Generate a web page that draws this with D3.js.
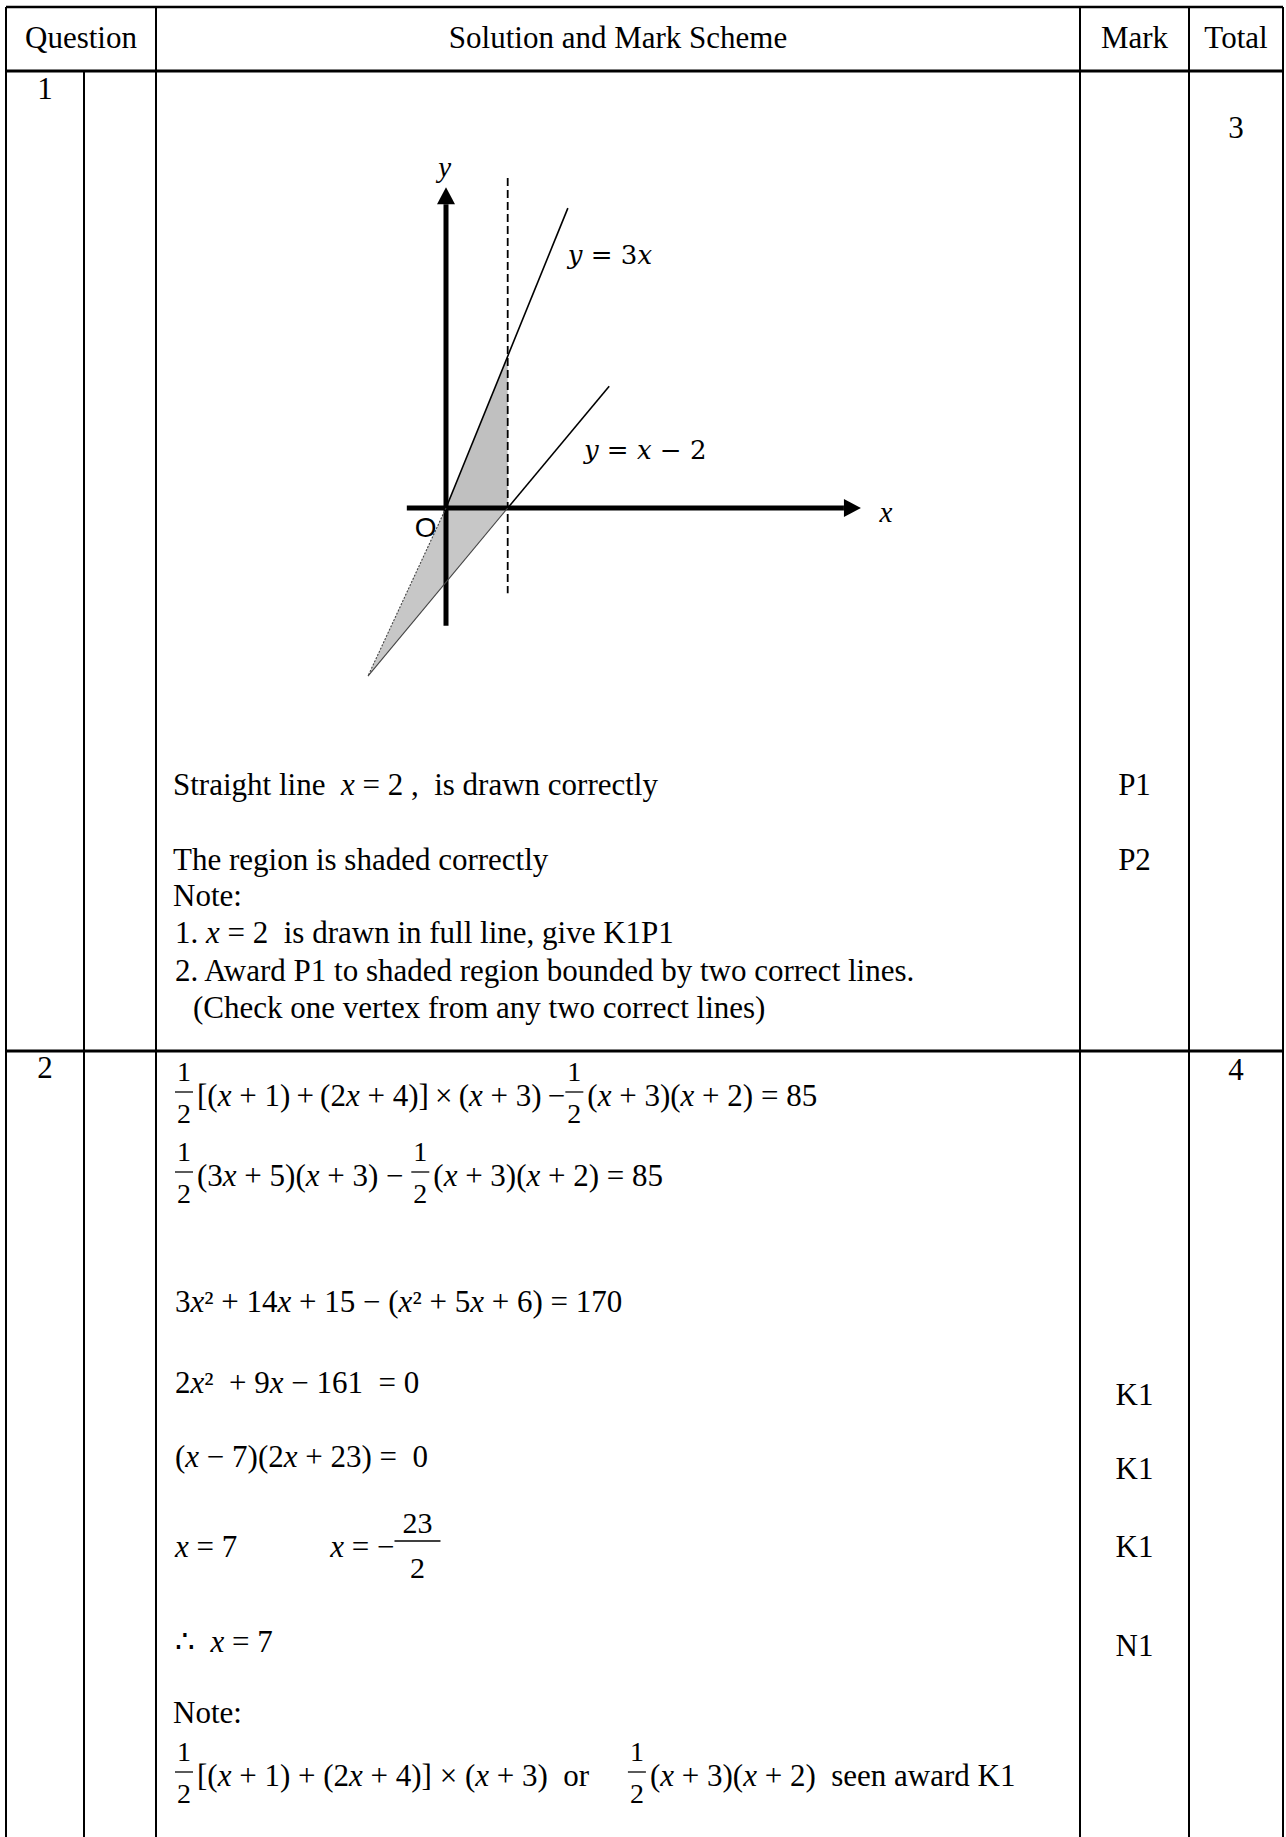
<!DOCTYPE html>
<html>
<head>
<meta charset="utf-8">
<script src="https://cdn.jsdelivr.net/npm/d3@7"></script>
<style>
  body { margin: 0; background: #fff; }
  svg { display: block; }
  text { white-space: pre; }
</style>
</head>
<body>
<div id="page"></div>
<script>
// ---------- content ----------
const headerLabels = ["Question", "Solution and Mark Scheme", "Mark", "Total"];
const questionNumbers = ["1", "2"];
const questionTotals = ["3", "4"];

// question 1 : the sketch, in sketch units (origin O, x = 2 is the dashed line)
const axisXRange = [-1.27, 13.45];
const axisYRange = [-3.82, 10.4];
const dashedX = 2;
const dashedRange = [-2.76, 10.7];
const line3x = [[0, 0], [3.95, 9.72]];
const line3xLower = [[0, 0], [-2.53, -5.45]];
const lineXm2 = [[2, 0], [5.29, 3.95]];
const lineXm2Lower = [[2, 0], [-2.53, -5.45]];
const regionUpper = [[0, 0], [2, 4.92], [2, 0]];
const regionLower = [[0, 0], [2, 0], [-2.53, -5.45]];
const sketchLabels = [
  {text: "$y = 3x$", at: [3.95, 8.2]},
  {text: "$y = x − 2$", at: [4.47, 1.88]}
];

const q1Lines = [
  "Straight line  $x = 2$ ,  is drawn correctly",
  "The region is shaded correctly",
  "Note:",
  "1. $x = 2$  is drawn in full line, give K1P1",
  "2. Award P1 to shaded region bounded by two correct lines.",
  "(Check one vertex from any two correct lines)"
];
const q1Marks = ["P1", "P2", "", "", "", ""];

// question 2 : working, fractions as {n, d}
const half = {n: "1", d: "2"};
const q2Lines = [
  [half, "[(x + 1)\u2009+\u2009(2x + 4)]\u2009×\u2009(x + 3)\u2009−", half, "(x + 3)(x + 2) = 85"],
  [half, "(3x + 5)(x + 3) − ", half, "(x + 3)(x + 2) = 85"],
  ["3x² + 14x + 15 − (x² + 5x + 6) = 170"],
  ["2x²  + 9x − 161  = 0"],
  ["(x − 7)(2x + 23) =  0"],
  ["x = 7            x = −", {n: "23", d: "2", big: true}],
  ["∴  x = 7"],
  ["Note:"],
  [half, "[(x + 1) + (2x + 4)] × (x + 3)  or     ", half, "(x + 3)(x + 2)  seen award K1"]
];
const q2Marks = ["", "", "", "K1", "K1", "K1", "N1", "", ""];

// ---------- layout ----------
var W = 1286, H = 1837,
    cols = {left: 6, q2: 84, sol: 156, mark: 1080, total: 1189, right: 1283},
    rows = {top: 7, head: 71, q1: 1051},
    serif = "'Liberation Serif','Times New Roman',serif",
    fs = 31,
    textX = 173;

var headBase = 48,
    q1NoBase = 99, q1TotBase = 138,
    q1Base = [795, 870, 906, 943, 981, 1018],
    q1Indent = [0, 0, 0, 2, 2, 20],
    q2NoBase = 1078,
    q2Base = [1106, 1186, 1312, 1393, 1467, 1557, 1652, 1723, 1786],
    q2MarkBase = [0, 0, 0, 1405, 1479, 1557, 1656, 0, 0];

var svg = d3.select("#page").append("svg")
    .attr("width", W)
    .attr("height", H);

// ---------- table grid ----------
var grid = svg.append("g").attr("stroke", "#000").attr("fill", "none");
grid.selectAll("line.h")
    .data([{y: rows.top, w: 2.5}, {y: rows.head, w: 3}, {y: rows.q1, w: 3}])
    .enter().append("line")
    .attr("x1", cols.left).attr("x2", cols.right)
    .attr("y1", d => d.y).attr("y2", d => d.y)
    .attr("stroke-width", d => d.w);
grid.selectAll("line.v")
    .data([
      {x: cols.left, y0: rows.top},
      {x: cols.q2, y0: rows.head},
      {x: cols.sol, y0: rows.top},
      {x: cols.mark, y0: rows.top},
      {x: cols.total, y0: rows.top},
      {x: cols.right, y0: rows.top}
    ])
    .enter().append("line")
    .attr("x1", d => d.x).attr("x2", d => d.x)
    .attr("y1", d => d.y0).attr("y2", H)
    .attr("stroke-width", 2);

// ---------- helpers ----------
function plain(g, x, y, str, anchor, size) {
  return g.append("text")
      .attr("x", x).attr("y", y)
      .attr("text-anchor", anchor || "start")
      .style("font-family", serif)
      .style("font-size", (size || fs) + "px")
      .text(str);
}

// writes x, y as italic inside maths runs; returns the text node
function runs(g, x, y, str, size, italicAll, family) {
  var t = g.append("text")
      .attr("x", x).attr("y", y)
      .style("font-family", family || serif)
      .style("font-size", (size || fs) + "px");
  str.split(/(\$[^$]*\$)/).forEach(function(part) {
    if (!part) return;
    var math = italicAll || part[0] == "$";
    part = part.replace(/\$/g, "");
    part.split(/([xy])/).forEach(function(p) {
      if (!p) return;
      t.append("tspan")
          .style("font-style", math && (p == "x" || p == "y") ? "italic" : "normal")
          .text(p);
    });
  });
  return t;
}

function mathLine(g, x0, base, pieces) {
  var x = x0;
  pieces.forEach(function(p) {
    if (typeof p == "string") {
      var t = runs(g, x, base, p, fs, true);
      x += t.node().getComputedTextLength();
    } else {
      var big = !!p.big,
          size = big ? 30 : 28,
          nt = plain(g, 0, 0, p.n, "middle", size),
          dt = plain(g, 0, 0, p.d, "middle", size),
          w = Math.max(nt.node().getComputedTextLength(), dt.node().getComputedTextLength()) + (big ? 16 : 4),
          cx = x + w / 2;
      nt.attr("x", cx).attr("y", base - (big ? 24 : 25));
      dt.attr("x", cx).attr("y", base + (big ? 21 : 17));
      g.append("line")
          .attr("x1", x).attr("x2", x + w)
          .attr("y1", base - (big ? 16 : 14)).attr("y2", base - (big ? 16 : 14))
          .attr("stroke", "#000").attr("stroke-width", 1.3);
      x += w + 4;
    }
  });
}

// ---------- header ----------
var txt = svg.append("g");
var headX = [(cols.left + cols.sol) / 2, (cols.sol + cols.mark) / 2,
             (cols.mark + cols.total) / 2, (cols.total + cols.right) / 2];
headerLabels.forEach((h, i) => plain(txt, headX[i], headBase, h, "middle"));

var qnoX = (cols.left + cols.q2) / 2,
    markX = (cols.mark + cols.total) / 2,
    totX = (cols.total + cols.right) / 2;
plain(txt, qnoX, q1NoBase, questionNumbers[0], "middle");
plain(txt, totX, q1TotBase, questionTotals[0], "middle");
plain(txt, qnoX, q2NoBase, questionNumbers[1], "middle");
plain(txt, totX, q2NoBase + 2, questionTotals[1], "middle");

// ---------- sketch ----------
var sx = d3.scaleLinear().domain([0, 2]).range([446, 507.7]),
    sy = d3.scaleLinear().domain([0, 2]).range([508, 446.3]);
var sk = svg.append("g");
var path = d3.line().x(d => sx(d[0])).y(d => sy(d[1]));

sk.append("path").attr("d", path(regionLower) + "Z").attr("fill", "#c7c7c7");
sk.append("path").attr("d", path(regionUpper) + "Z").attr("fill", "#c0c0c0");

// axes with arrow heads
var ah = 17, aw = 9;
sk.append("line")
    .attr("x1", sx(axisXRange[0])).attr("x2", sx(axisXRange[1]) - ah)
    .attr("y1", sy(0)).attr("y2", sy(0))
    .attr("stroke", "#000").attr("stroke-width", 5);
sk.append("path")
    .attr("d", "M" + sx(axisXRange[1]) + "," + sy(0) +
               "L" + (sx(axisXRange[1]) - ah) + "," + (sy(0) - aw) +
               "L" + (sx(axisXRange[1]) - ah) + "," + (sy(0) + aw) + "Z");
sk.append("line")
    .attr("x1", sx(0)).attr("x2", sx(0))
    .attr("y1", sy(axisYRange[0])).attr("y2", sy(axisYRange[1]) + ah)
    .attr("stroke", "#000").attr("stroke-width", 5);
sk.append("path")
    .attr("d", "M" + sx(0) + "," + sy(axisYRange[1]) +
               "L" + (sx(0) - aw) + "," + (sy(axisYRange[1]) + ah) +
               "L" + (sx(0) + aw) + "," + (sy(axisYRange[1]) + ah) + "Z");

// x = 2 dashed
sk.append("line")
    .attr("x1", sx(dashedX)).attr("x2", sx(dashedX))
    .attr("y1", sy(dashedRange[1])).attr("y2", sy(dashedRange[0]))
    .attr("stroke", "#000").attr("stroke-width", 1.8)
    .attr("stroke-dasharray", "8,4");

sk.selectAll("path.ln")
    .data([line3x, lineXm2])
    .enter().append("path")
    .attr("d", path)
    .attr("fill", "none").attr("stroke", "#000").attr("stroke-width", 1.6);
sk.selectAll("path.lo")
    .data([line3xLower, lineXm2Lower])
    .enter().append("path")
    .attr("d", path)
    .attr("fill", "none").attr("stroke", "#444").attr("stroke-width", 1.1)
    .attr("stroke-dasharray", (d, i) => i == 0 ? "2,1.5" : null);

sketchLabels.forEach(function(l) {
  runs(sk, sx(l.at[0]), sy(l.at[1]) + 9, l.text, 26, false, "'DejaVu Serif',serif");
});
runs(sk, sx(-0.25), sy(11.0) + 8, "$y$", 29);
runs(sk, sx(14.05), sy(-0.2) + 8, "$x$", 29);
sk.append("text")
    .attr("x", sx(-0.66)).attr("y", sy(-0.62) + 10)
    .attr("text-anchor", "middle")
    .style("font-family", "'Liberation Sans',Arial,sans-serif")
    .style("font-size", "28px")
    .text("O");

// ---------- question 1 text ----------
q1Lines.forEach(function(l, i) {
  runs(txt, textX + q1Indent[i], q1Base[i], l);
  if (q1Marks[i]) plain(txt, markX, q1Base[i], q1Marks[i], "middle");
});

// ---------- question 2 working ----------
q2Lines.forEach(function(l, i) {
  if (l.length == 1 && l[0] == "Note:") plain(txt, textX, q2Base[i], "Note:");
  else mathLine(txt, textX + 2, q2Base[i], l);
  if (q2Marks[i]) plain(txt, markX, q2MarkBase[i], q2Marks[i], "middle");
});
</script>
</body>
</html>
